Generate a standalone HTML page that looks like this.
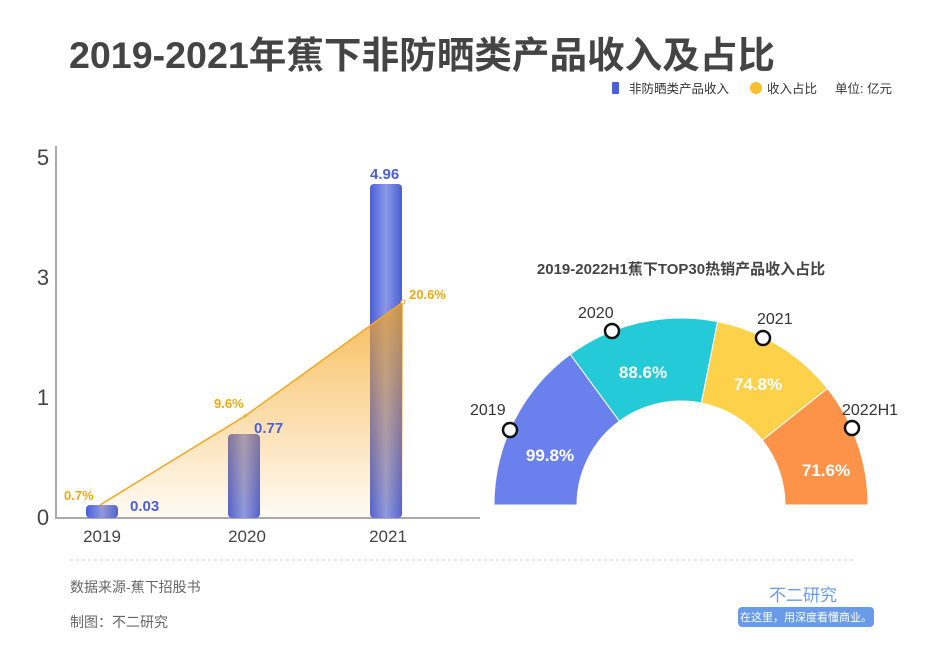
<!DOCTYPE html>
<html><head><meta charset="utf-8"><style>
body{margin:0;background:#fff;}
svg text{font-family:"Liberation Sans","Noto Sans CJK SC",sans-serif;}
</style></head><body>
<svg width="940" height="644" viewBox="0 0 940 644" xmlns="http://www.w3.org/2000/svg">
<defs>
<linearGradient id="bar" x1="0" x2="1" y1="0" y2="0">
<stop offset="0" stop-color="#4a5fd8"/><stop offset="0.5" stop-color="#8b98e6"/><stop offset="1" stop-color="#4a5fd8"/>
</linearGradient>
<linearGradient id="area" x1="0" x2="0" y1="0" y2="1">
<stop offset="0" stop-color="#f5a623" stop-opacity="0.75"/><stop offset="1" stop-color="#f5a623" stop-opacity="0.05"/>
</linearGradient>
</defs>
<text x="422" y="68" text-anchor="middle" font-size="37" font-weight="bold" fill="#444" textLength="706" lengthAdjust="spacingAndGlyphs">2019-2021年蕉下非防晒类产品收入及占比</text>
<rect x="612" y="82" width="7" height="12" rx="1" fill="#4a5fd8"/>
<text x="629" y="93" font-size="12.5" fill="#333">非防晒类产品收入</text>
<circle cx="756" cy="88" r="6" fill="#f5c030"/>
<text x="767" y="93" font-size="12.5" fill="#333">收入占比</text>
<text x="835" y="93" font-size="12.5" fill="#333">单位: 亿元</text>
<line x1="56" y1="146" x2="56" y2="518" stroke="#aaa" stroke-width="2"/>
<line x1="55" y1="518" x2="480" y2="518" stroke="#aaa" stroke-width="2"/>
<g font-size="22" fill="#444" text-anchor="middle">
<text x="43" y="165">5</text><text x="43" y="285">3</text><text x="43" y="405">1</text><text x="43" y="525">0</text>
</g>
<g font-size="17" fill="#444" text-anchor="middle">
<text x="102" y="542">2019</text><text x="247" y="542">2020</text><text x="388" y="542">2021</text>
</g>
<rect x="86" y="505" width="32" height="13" rx="4" fill="url(#bar)"/>
<rect x="228" y="434" width="32" height="84" rx="4" fill="url(#bar)"/>
<rect x="370" y="184" width="32" height="334" rx="4" fill="url(#bar)"/>
<polygon points="100,505 245,416 403,302 403,518 100,518" fill="url(#area)"/>
<polyline points="100,505 245,416 403,302" fill="none" stroke="#f5a623" stroke-width="1.5"/>
<circle cx="245" cy="416" r="1.5" fill="#f5a623"/><circle cx="403" cy="302" r="2" fill="#fff" stroke="#f5a623"/>
<g font-size="15" font-weight="bold" fill="#4a5fd8">
<text x="130" y="511">0.03</text><text x="254" y="433">0.77</text><text x="370" y="179">4.96</text>
</g>
<g font-size="13" font-weight="bold" fill="#f5a80a">
<text x="64" y="500">0.7%</text><text x="214" y="408">9.6%</text><text x="409" y="299">20.6%</text>
</g>
<text x="681" y="274" text-anchor="middle" font-size="15" font-weight="bold" fill="#444">2019-2022H1蕉下TOP30热销产品收入占比</text>
<path d="M494,505 A187,187 0 0 1 570.3,354.3 L619.4,421.2 A104,104 0 0 0 577,505 Z" fill="#6a80ec" stroke="#fff"/>
<path d="M570.3,354.3 A187,187 0 0 1 717.6,321.6 L701.4,403 A104,104 0 0 0 619.4,421.2 Z" fill="#25cad8" stroke="#fff"/>
<path d="M717.6,321.6 A187,187 0 0 1 827.4,388.5 L762.4,440.2 A104,104 0 0 0 701.4,403 Z" fill="#fdd14a" stroke="#fff"/>
<path d="M827.4,388.5 A187,187 0 0 1 868,505 L785,505 A104,104 0 0 0 762.4,440.2 Z" fill="#fd9348" stroke="#fff"/>
<g font-size="17" font-weight="bold" fill="#fff" text-anchor="middle">
<text x="550" y="461">99.8%</text><text x="643" y="378">88.6%</text><text x="758" y="390">74.8%</text><text x="826" y="476">71.6%</text>
</g>
<g fill="#fff" stroke="#111" stroke-width="2.5">
<circle cx="510" cy="430" r="7"/><circle cx="612" cy="331" r="7"/><circle cx="763" cy="338" r="7"/><circle cx="852" cy="428" r="7"/>
</g>
<g font-size="16" fill="#333">
<text x="470" y="415">2019</text><text x="578" y="318">2020</text><text x="757" y="324">2021</text><text x="842" y="415">2022H1</text>
</g>
<line x1="70" y1="560" x2="856" y2="560" stroke="#ccc" stroke-dasharray="3,3"/>
<text x="70" y="592" font-size="14" fill="#666">数据来源-蕉下招股书</text>
<text x="70" y="627" font-size="14" fill="#666">制图：不二研究</text>
<text x="803" y="601" text-anchor="middle" font-size="17" fill="#6a9be8">不二研究</text>
<rect x="738" y="607" width="136" height="20" rx="4" fill="#6a9be8"/>
<text x="806" y="621" text-anchor="middle" font-size="11" fill="#fff">在这里，用深度看懂商业。</text>
</svg>
</body></html>
